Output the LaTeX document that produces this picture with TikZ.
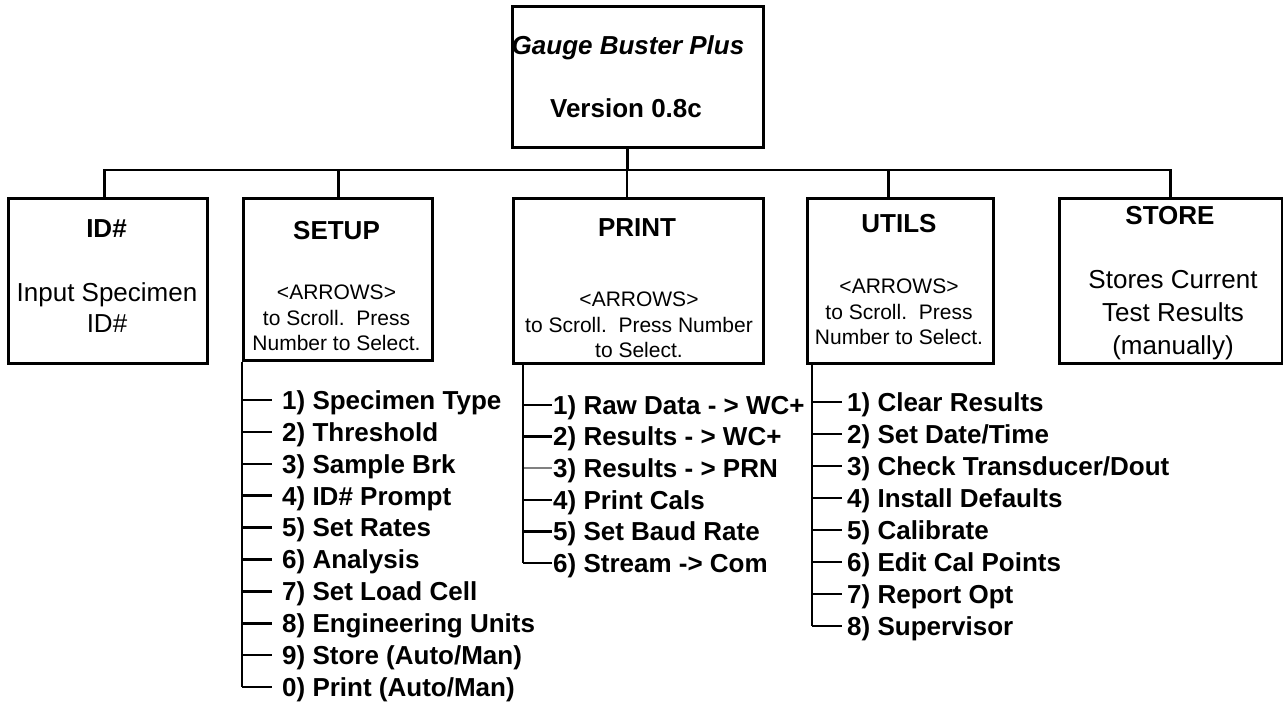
\documentclass[tikz,border=0pt]{standalone}
\usepackage{fontspec}
\setmainfont{Liberation Sans}
\usetikzlibrary{positioning}
\tikzstyle{menubox} = [draw, line width=2.5pt, rectangle, anchor=north west, inner sep=0pt]
\tikzstyle{menutitle} = [font=\fontsize{26}{31}\selectfont\bfseries, inner sep=0pt, text height=18.6pt, text depth=0pt]
\tikzstyle{menunote} = [font=\fontsize{21}{25.5}\selectfont, align=center, inner sep=0pt]
\tikzstyle{menutext} = [font=\fontsize{26}{31}\selectfont, align=center, inner sep=0pt]
\tikzstyle{menuitem} = [font=\fontsize{26}{31}\selectfont\bfseries, anchor=west, inner sep=0pt, text height=18.6pt, text depth=0pt]
\tikzstyle{wire} = [line width=2.5pt]
\begin{document}
\begin{tikzpicture}[x=1pt,y=-1pt]
	\useasboundingbox (0,0) rectangle (1283,702);
	\node[menubox, minimum width=251pt, minimum height=141pt] (mainbox) at (511,5) {};
	\node[menutitle, font=\fontsize{26}{31}\selectfont\bfseries\itshape] (progname) at (628,45) {Gauge Buster Plus};
	\node[menutitle] (version) at (626,108) {Version 0.8c};
	\node[menubox, minimum width=199pt, minimum height=165pt] (idbox) at (7,197) {};
	\node[menubox, minimum width=189pt, minimum height=162pt] (setupbox) at (242,197) {};
	\node[menubox, minimum width=250pt, minimum height=165pt] (printbox) at (512,197) {};
	\node[menubox, minimum width=186pt, minimum height=165pt] (utilsbox) at (806,197) {};
	\node[menubox, minimum width=223pt, minimum height=165pt] (storebox) at (1058,197) {};
	\node[menutitle] (idtitle) at (106.5,228) {ID\#};
	\node[menutitle] (setuptitle) at (336.5,230) {SETUP};
	\node[menutitle] (printtitle) at (637,227) {PRINT};
	\node[menutitle] (utilstitle) at (899,223) {UTILS};
	\node[menutitle] (storetitle) at (1170,215) {STORE};
	\node[menutext] (idnote) at (107,307.5) {Input Specimen\\ID\#};
	\node[menunote] (setupnote) at (336.5,318) {<ARROWS>\\to Scroll.\ \ Press\\Number to Select.};
	\node[menunote] (printnote) at (639,325) {<ARROWS>\\to Scroll.\ \ Press Number\\to Select.};
	\node[menunote] (utilsnote) at (899,312) {<ARROWS>\\to Scroll.\ \ Press\\Number to Select.};
	\node[menutext, font=\fontsize{26}{33}\selectfont] (storenote) at (1173,314.7) {Stores Current\\Test Results\\(manually)};
	\coordinate (bus) at (626,170);
	\draw[wire] ([xshift=-10.5pt]mainbox.south) -- ([xshift=-10.5pt]mainbox.south |- bus);
	\draw[wire] ([xshift=-3.5pt]idbox.north) -- ([xshift=-3.5pt]idbox.north |- bus) -- ([xshift=-0.5pt]storebox.north |- bus) -- ([xshift=-0.5pt]storebox.north);
	\foreach \b/\dx in {setupbox/0.5, printbox/-11.5, utilsbox/-12}
		\draw[wire] ([xshift=\dx pt]\b.north) -- ([xshift=\dx pt]\b.north |- bus);
	% setup menu
	\foreach \txt [count=\i] in {{1) Specimen Type}, {2) Threshold}, {3) Sample Brk}, {4) ID\# Prompt}, {5) Set Rates}, {6) Analysis}, {7) Set Load Cell}, {8) Engineering Units}, {9) Store (Auto/Man)}, {0) Print (Auto/Man)}}{
		\node[menuitem] (s\i) at (282,{400+31.9*(\i-1)}) {\txt};
		\draw[wire] (setupbox.south west |- s\i.west) -- ([xshift=-10pt]s\i.west);
	}
	\draw[wire] (setupbox.south west) -- (setupbox.south west |- s10.west);
	% print menu
	\foreach \txt/\col [count=\i] in {{1) Raw Data - > WC+}/black, {2) Results - > WC+}/black, {3) Results - > PRN}/gray, {4) Print Cals}/black, {5) Set Baud Rate}/black, {6) Stream -> Com}/black}{
		\node[menuitem] (p\i) at (553,{405+31.6*(\i-1)}) {\txt};
		\draw[wire, \col] ([xshift=11pt]printbox.south west |- p\i.west) -- ([xshift=-1pt]p\i.west);
	}
	\draw[wire] ([xshift=11pt]printbox.south west) -- ([xshift=11pt]printbox.south west |- p6.west);
	% utils menu
	\foreach \txt [count=\i] in {{1) Clear Results}, {2) Set Date/Time}, {3) Check Transducer/Dout}, {4) Install Defaults}, {5) Calibrate}, {6) Edit Cal Points}, {7) Report Opt}, {8) Supervisor}}{
		\node[menuitem] (u\i) at (847,{402+32*(\i-1)}) {\txt};
		\draw[wire] ([xshift=6pt]utilsbox.south west |- u\i.west) -- ([xshift=-5pt]u\i.west);
	}
	\draw[wire] ([xshift=6pt]utilsbox.south west) -- ([xshift=6pt]utilsbox.south west |- u8.west);
\end{tikzpicture}
\end{document}
